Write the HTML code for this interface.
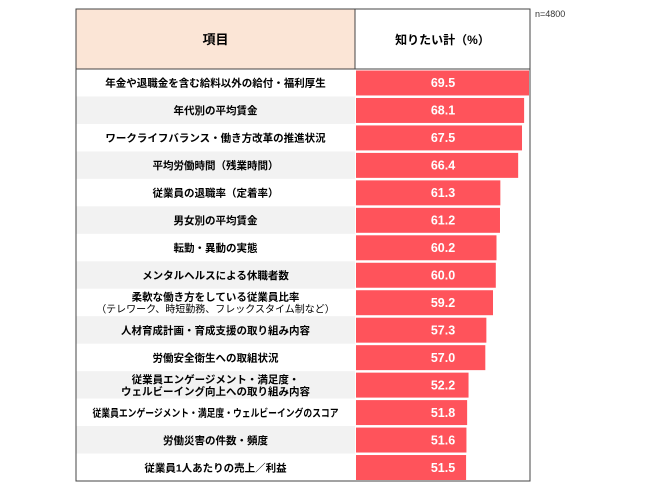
<!DOCTYPE html>
<html><head><meta charset="utf-8"><style>
body{margin:0;width:650px;height:492px;background:#fff;font-family:"Liberation Sans","Noto Sans CJK JP",sans-serif;position:relative;overflow:hidden}
</style></head><body>
<svg id="chart" width="650" height="492" xmlns="http://www.w3.org/2000/svg" style="position:absolute;left:0;top:0"></svg>
<script>
const categories=[
["年金や退職金を含む給料以外の給付・福利厚生"],
["年代別の平均賃金"],
["ワークライフバランス・働き方改革の推進状況"],
["平均労働時間（残業時間）"],
["従業員の退職率（定着率）"],
["男女別の平均賃金"],
["転勤・異動の実態"],
["メンタルヘルスによる休職者数"],
["柔軟な働き方をしている従業員比率","（テレワーク、時短勤務、フレックスタイム制など）"],
["人材育成計画・育成支援の取り組み内容"],
["労働安全衛生への取組状況"],
["従業員エンゲージメント・満足度・","ウェルビーイング向上への取り組み内容"],
["従業員エンゲージメント・満足度・ウェルビーイングのスコア"],
["労働災害の件数・頻度"],
["従業員1人あたりの売上／利益"]];
const values=[69.5,68.1,67.5,66.4,61.3,61.2,60.2,60.0,59.2,57.3,57.0,52.2,51.8,51.6,51.5];
const labels=["69.5","68.1","67.5","66.4","61.3","61.2","60.2","60.0","59.2","57.3","57.0","52.2","51.8","51.6","51.5"];
const NS="http://www.w3.org/2000/svg";
const svg=document.getElementById('chart');
const L=76,D=355,R=530,T=9,HB=69,B=481;
const rowH=(B-HB)/values.length;
const xMin=20,xMax=69.5;
function x(v){return 356+(v-xMin)/(xMax-xMin)*(529-356);}
function y(i){return HB+i*rowH;}
function el(t,a,txt){const e=document.createElementNS(NS,t);for(const k in a)e.setAttribute(k,a[k]);if(txt!==undefined)e.textContent=txt;svg.appendChild(e);return e;}
let e=el('rect',{x:L,y:T,width:D-L,height:HB-T,fill:'#fbe5d6'});

e=el('text',{x:(L+D)/2,y:44,'text-anchor':'middle','font-size':'13','font-weight':'bold',fill:'#000'},'項目');

e=el('text',{x:(D+R)/2,y:44,'text-anchor':'middle','font-size':'12','font-weight':'bold',fill:'#000'},'知りたい計（%）');

e=el('text',{x:535,y:17,'font-size':'9',fill:'#333'},'n=4800');

values.forEach((v,i)=>{
  if(i%2==1){const g=el('rect',{x:L,y:y(i),width:D-L,height:rowH,fill:'#f2f2f2'});
  }
  const b=el('rect',{x:356,y:y(i)+1.5,width:x(v)-356,height:rowH-2.5,fill:'#ff535b'});
  
  const t=el('text',{x:443,y:y(i)+rowH/2+4.5,'text-anchor':'middle','font-size':'12.5','font-weight':'bold',fill:'#fff'},labels[i]);
  
  const c=categories[i];
  c.forEach((s,j)=>{
    const sm=j==1&&i==8;
    const yy=c.length==1?y(i)+rowH/2+4:y(i)+rowH/2+(j==0?-2:10);
    const attrs={x:(L+D)/2,y:yy,'text-anchor':'middle','font-size':sm?'10':'10.5','font-weight':sm?'normal':'bold',fill:'#000'};
    if(s.length>24){attrs.textLength='246';attrs.lengthAdjust='spacingAndGlyphs';}
    const tt=el('text',attrs,s);
    
  });
});
e=el('rect',{x:L,y:T,width:R-L,height:B-T,fill:'none',stroke:'#444','stroke-width':'1'});

e=el('line',{x1:D,y1:T,x2:D,y2:HB,stroke:'#444','stroke-width':'1'});

e=el('line',{x1:L,y1:HB,x2:R,y2:HB,stroke:'#444','stroke-width':'1'});

</script>
</body></html>
